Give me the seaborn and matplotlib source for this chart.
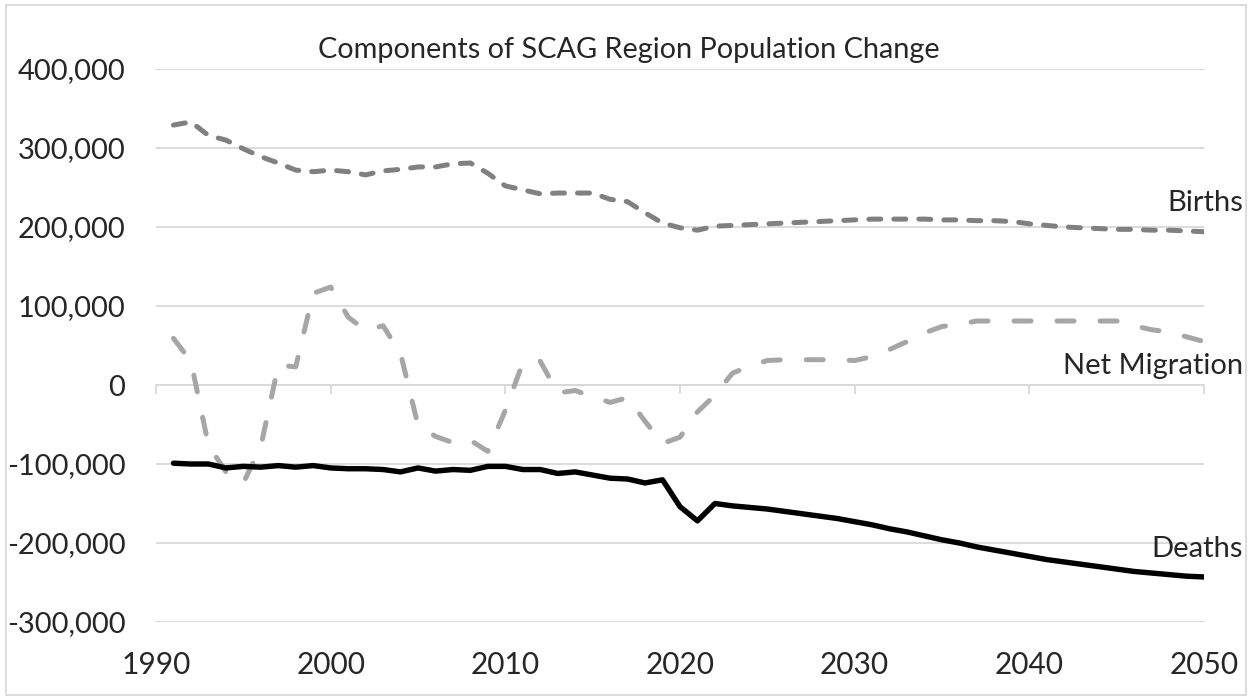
import matplotlib
matplotlib.use("Agg")
import matplotlib.pyplot as plt
from matplotlib.patches import Rectangle
from matplotlib.ticker import FuncFormatter
import numpy as np
import pandas as pd
import seaborn as sns

# Annual components, SCAG region
YEARS = list(range(1991, 2051))

BIRTHS = [
    329000, 333000, 316000, 310000, 299000, 289000, 281000, 272000, 270000, 272000,
    270000, 266000, 271000, 273000, 276000, 276000, 280000, 281000, 268000, 252000,
    247000, 242000, 243000, 243000, 243000, 235000, 232000, 218000, 205000, 199000,
    196000, 201000, 202000, 203000, 204000, 205000, 206000, 207000, 208000, 209000,
    210000, 210000, 210000, 210000, 209000, 209000, 208000, 208000, 207000, 204000,
    202000, 200000, 199000, 198000, 197000, 197000, 196000, 196000, 195000, 194000,
]

NET_MIGRATION = [
    59000, 30000, -76000, -110000, -124000, -78000, 25000, 23000, 116000, 124000,
    86000, 69000, 75000, 40000, -51000, -65000, -73000, -70000, -84000, -32000,
    28000, 30000, -10000, -7000, -15000, -22000, -16000, -46000, -74000, -66000,
    -34000, -13000, 15000, 24000, 31000, 32000, 32000, 32000, 32000, 31000,
    36000, 45000, 55000, 66000, 74000, 77000, 81000, 81000, 81000, 81000,
    81000, 81000, 81000, 81000, 81000, 75000, 70000, 67000, 61000, 55000,
]

DEATHS = [
    -99000, -100000, -100000, -105000, -103000, -104000, -102000, -104000, -102000, -105000,
    -106000, -106000, -107000, -110000, -105000, -109000, -107000, -108000, -103000, -103000,
    -107000, -107000, -112000, -110000, -114000, -118000, -119000, -124000, -120000, -154000,
    -172000, -150000, -153000, -155000, -157000, -160000, -163000, -166000, -169000, -173000,
    -177000, -182000, -186000, -191000, -196000, -200000, -205000, -209000, -213000, -217000,
    -221000, -224000, -227000, -230000, -233000, -236000, -238000, -240000, -242000, -243000,
]

X_TICKS = [1990, 2000, 2010, 2020, 2030, 2040, 2050]
Y_TICKS = [-300000, -200000, -100000, 0, 100000, 200000, 300000, 400000]

df = pd.DataFrame({"year": YEARS, "Births": BIRTHS,
                   "Net Migration": NET_MIGRATION, "Deaths": DEATHS})

sns.set_theme(style="white")
plt.rcParams["font.family"] = ["Lato", "DejaVu Sans"]

fig = plt.figure(figsize=(12.52, 7.0), dpi=100)
ax = fig.add_axes([156 / 1252, 1 - 622 / 700, (1204 - 156) / 1252, (622 - 69) / 700])

grid_col = "#d9d9d9"

sns.lineplot(data=df, x="year", y="Births", ax=ax, color="#808080", linewidth=3.6,
             linestyle=(0, (2.4, 2.6)), dash_capstyle="round", zorder=3)
sns.lineplot(data=df, x="year", y="Net Migration", ax=ax, color="#a6a6a6", linewidth=3.6,
             linestyle=(0, (3.4, 5.2)), dash_capstyle="round", zorder=3)
sns.lineplot(data=df, x="year", y="Deaths", ax=ax, color="black", linewidth=3.9,
             solid_capstyle="round", zorder=4)

ax.set_xlim(1990, 2050)
ax.set_ylim(-300000, 400000)
ax.set_xticks(X_TICKS)
ax.set_yticks(Y_TICKS)
ax.yaxis.set_major_formatter(FuncFormatter(lambda v, p: "0" if v == 0 else f"{int(v):,}"))
ax.set_xlabel("")
ax.set_ylabel("")
ax.grid(axis="y", color=grid_col, linewidth=1.3)
ax.grid(axis="x", visible=False)
for s in ax.spines.values():
    s.set_visible(False)
ax.tick_params(axis="y", length=0, pad=22, labelsize=21)
ax.tick_params(axis="x", length=0, pad=21, labelsize=21.5)

# horizontal axis crossing at zero, tick marks only
sec = ax.secondary_xaxis(3 / 7)
sec.set_xticks(X_TICKS)
sec.set_xticklabels([])
sec.tick_params(axis="x", direction="out", length=6.5, width=1.3, color=grid_col)
sec.spines["bottom"].set_color(grid_col)
sec.spines["bottom"].set_linewidth(1.3)

# series labels at right end
ax.annotate("Births", xy=(YEARS[-1], BIRTHS[-1]), xytext=(39, 29), textcoords="offset pixels",
            ha="right", va="center", fontsize=21, annotation_clip=False)
ax.annotate("Net Migration", xy=(YEARS[-1], NET_MIGRATION[-1]), xytext=(39, -24),
            textcoords="offset pixels", ha="right", va="center", fontsize=21, annotation_clip=False)
ax.annotate("Deaths", xy=(YEARS[-1], DEATHS[-1]), xytext=(39, 28), textcoords="offset pixels",
            ha="right", va="center", fontsize=21, annotation_clip=False)

fig.text(629 / 1252, 1 - 50 / 700, "Components of SCAG Region Population Change",
         ha="center", va="center", fontsize=20.8)

# chart border
fig.patches.append(Rectangle((6 / 1252, 5 / 700), 1240 / 1252, 690 / 700, transform=fig.transFigure,
                             fill=False, edgecolor=grid_col, linewidth=1.3))

fig.savefig("out.png", dpi=100)
